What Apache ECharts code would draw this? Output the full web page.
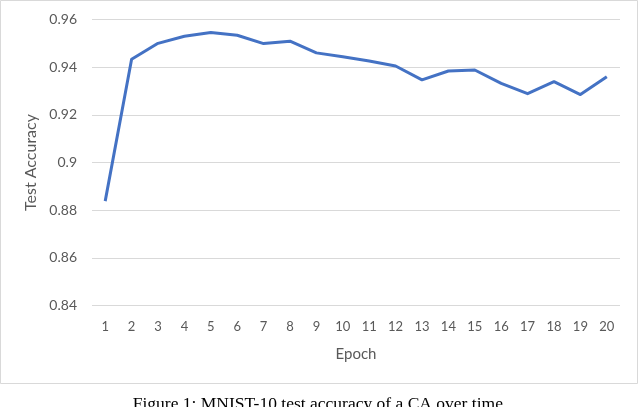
<!DOCTYPE html>
<html>
<head>
<meta charset="utf-8">
<script src="https://cdn.jsdelivr.net/npm/echarts@6/dist/echarts.min.js"></script>
<style>
  html, body { margin: 0; padding: 0; background: #fff; }
  #chart { width: 640px; height: 407px; }
</style>
</head>
<body>
<div id="chart"></div>
<script>
  // epochs 1..20 and test accuracy
  var epochs = ['1','2','3','4','5','6','7','8','9','10','11','12','13','14','15','16','17','18','19','20'];
  var accuracy = [0.8838, 0.9433, 0.9500, 0.9530, 0.9545, 0.9534, 0.9499, 0.9509, 0.9460, 0.9444,
                  0.9426, 0.9405, 0.9347, 0.9384, 0.9388, 0.9332, 0.9289, 0.9339, 0.9285, 0.9360];
  var yTicks = [0.84, 0.86, 0.88, 0.9, 0.92, 0.94, 0.96];

  var labelFont = 'Lato, "Open Sans", sans-serif';
  var chart = echarts.init(document.getElementById('chart'), null, { renderer: 'canvas' });

  var option = {
    animation: false,
    backgroundColor: '#fff',
    grid: { left: 92, right: 20, top: 19.5, bottom: 101.5, containLabel: false },
    xAxis: {
      type: 'category',
      data: epochs,
      boundaryGap: true,
      name: 'Epoch',
      nameLocation: 'middle',
      nameGap: 41,
      nameTextStyle: { color: '#595959', fontSize: 15, fontFamily: labelFont },
      axisLine: { show: false },
      axisTick: { show: false },
      axisLabel: { color: '#595959', fontSize: 13, fontFamily: labelFont, margin: 15, interval: 0 }
    },
    yAxis: {
      type: 'value',
      min: yTicks[0],
      max: yTicks[yTicks.length - 1],
      interval: 0.02,
      name: 'Test Accuracy',
      nameLocation: 'middle',
      nameGap: 51,
      nameTextStyle: { color: '#595959', fontSize: 16, fontFamily: labelFont },
      axisLine: { show: false },
      axisTick: { show: false },
      axisLabel: {
        color: '#595959', fontSize: 14, fontFamily: labelFont, margin: 15,
        formatter: function (v) { return String(Math.round(v * 100) / 100); }
      },
      splitLine: { lineStyle: { color: '#d9d9d9', width: 1 } }
    },
    series: [{
      type: 'line',
      data: accuracy,
      symbol: 'none',
      lineStyle: { color: '#4472c4', width: 3, join: 'round' }
    }],
    graphic: [
      {
        type: 'rect',
        shape: { x: 0.5, y: 0.5, width: 637, height: 383 },
        style: { fill: 'none', stroke: '#d9d9d9', lineWidth: 1 },
        silent: true
      },
      {
        type: 'text',
        left: 'center',
        top: 395,
        style: {
          text: 'Figure 1: MNIST-10 test accuracy of a CA over time.',
          fill: '#000',
          font: '17.5px "Liberation Serif", "DejaVu Serif", serif'
        }
      }
    ]
  };

  chart.setOption(option);
</script>
</body>
</html>
